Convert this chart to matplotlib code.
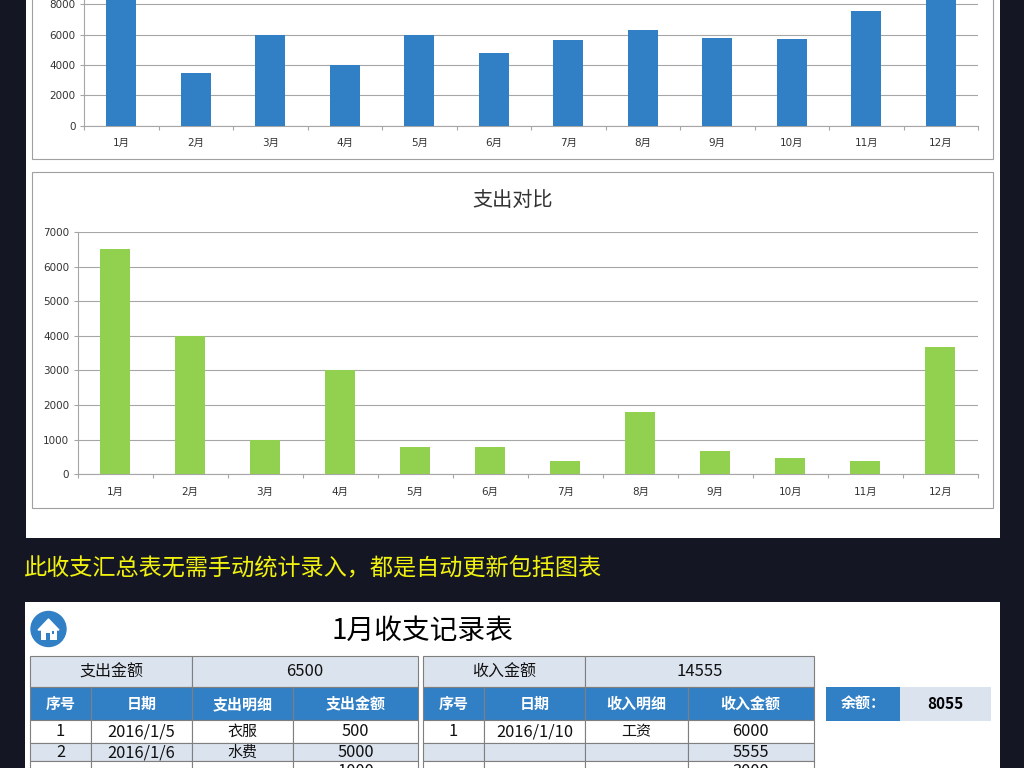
import numpy as np
import matplotlib
matplotlib.use("Agg")
import matplotlib.pyplot as plt
from matplotlib.patches import Rectangle, Circle, Polygon

plt.rcParams['font.family'] = ['Noto Sans CJK SC', 'DejaVu Sans']

# Data
months = ["1月", "2月", "3月", "4月", "5月", "6月", "7月", "8月", "9月", "10月", "11月", "12月"]
income = [14555, 3500, 6000, 4000, 6000, 4800, 5650, 6300, 5800, 5700, 7550, 9000]
expense = [6500, 4000, 1000, 3000, 800, 800, 380, 1800, 680, 480, 380, 3680]
income_ticks = [0, 2000, 4000, 6000, 8000]
expense_ticks = [0, 1000, 2000, 3000, 4000, 5000, 6000, 7000]

caption = "此收支汇总表无需手动统计录入，都是自动更新包括图表"
sheet_title = "1月收支记录表"
expense_head = ["序号", "日期", "支出明细", "支出金额"]
expense_rows = [["1", "2016/1/5", "衣服", "500"],
                ["2", "2016/1/6", "水费", "5000"],
                ["", "", "", "1000"]]
income_head = ["序号", "日期", "收入明细", "收入金额"]
income_rows = [["1", "2016/1/10", "工资", "6000"],
               ["", "", "", "5555"],
               ["", "", "", "3000"]]

DARK = "#141624"
BLUE = "#3180c6"
GREEN = "#92d050"
PALE = "#dae3ee"
LINE = "#7f7f7f"
GRID = "#a6a6a6"
TICK = "#333333"
TICK_FONT = ['DejaVu Sans', 'Noto Sans CJK SC']

fig = plt.figure(figsize=(10.24, 7.68), dpi=100, facecolor=DARK)

# page axes in pixel coordinates
page = fig.add_axes([0, 0, 1, 1])
page.set_xlim(0, 1024)
page.set_ylim(768, 0)
page.axis("off")


def box(x0, y0, x1, y1, fc="white", ec="none", lw=0.8):
    page.add_patch(Rectangle((x0, y0), x1 - x0, y1 - y0, facecolor=fc, edgecolor=ec, linewidth=lw))


def label(x, y, s, size=10.5, color="#111111", weight="normal"):
    page.text(x, y, s, fontsize=size, color=color, fontweight=weight,
              ha="center", va="center", clip_on=True)


box(26, 0, 1000, 538)
box(25, 602, 1000, 768)
box(32, -5, 993, 159, ec="#a0a0a0")
box(32, 172, 993, 508, ec="#a0a0a0")

page.text(24, 568, caption, fontsize=16.7, color="#f2f20f", ha="left", va="center")
label(422, 631, sheet_title, size=20, color="black")

# home icon
page.add_patch(Circle((48.5, 629), 17.5, color=BLUE))
page.add_patch(Polygon([[38, 630], [48.5, 619], [59, 630]], color="white"))
box(41, 629, 57, 640)
box(46, 633, 49.5, 640, fc=BLUE)
box(51.5, 631, 54, 634, fc=BLUE)


def draw_table(xs, title, total, head, rows):
    ys = [656, 687, 720, 742.5, 761, 790]
    mid = xs[2]
    box(xs[0], ys[0], mid, ys[1], fc=PALE, ec=LINE)
    box(mid, ys[0], xs[4], ys[1], fc=PALE, ec=LINE)
    label((xs[0] + mid) / 2, 672, title, size=11.5)
    label((mid + xs[4]) / 2, 672, total, size=12)
    for i in range(4):
        box(xs[i], ys[1], xs[i + 1], ys[2], fc=BLUE, ec=LINE)
        label((xs[i] + xs[i + 1]) / 2, 704, head[i], size=10.8, color="white", weight="bold")
        for r, row in enumerate(rows):
            box(xs[i], ys[2 + r], xs[i + 1], ys[3 + r], fc=PALE if r == 1 else "white", ec=LINE)
            size = 10.8 if i == 2 else 11.8
            label((xs[i] + xs[i + 1]) / 2, [732, 752.5, 772][r], row[i], size=size)


draw_table([30, 91, 192, 293, 418], "支出金额", "6500", expense_head, expense_rows)
draw_table([423, 484, 585, 687.5, 813.5], "收入金额", "14555", income_head, income_rows)

# balance box
box(826, 687, 900, 721, fc=BLUE)
box(900, 687, 991, 721, fc=PALE)
label(863, 704, "余额：", size=10.8, color="white", weight="bold")
label(945.5, 704, "8055", size=11, color="black", weight="bold")


def bar_chart(left, right, top, bottom, values, ticks, ymax, color):
    ax = fig.add_axes([left / 1024, 1 - bottom / 768, (right - left) / 1024, (bottom - top) / 768])
    ax.patch.set_alpha(0)
    x = np.arange(len(months))
    ax.bar(x, values, width=0.4, color=color, zorder=3)
    ax.set_xlim(-0.5, len(months) - 0.5)
    ax.set_ylim(0, ymax)
    ax.set_yticks(ticks)
    ax.yaxis.grid(True, color=GRID, linewidth=0.8, zorder=1)
    ax.set_axisbelow(True)
    ax.set_xticks(np.arange(len(months) + 1) - 0.5)
    ax.set_xticklabels([])
    ax.set_xticks(x, minor=True)
    ax.set_xticklabels(months, minor=True)
    ax.tick_params(axis="x", which="major", length=3, color=GRID, width=0.8)
    ax.tick_params(axis="x", which="minor", length=0, pad=9, labelsize=7.5, labelcolor=TICK,
                   labelfontfamily=TICK_FONT)
    ax.tick_params(axis="y", length=3, color=GRID, width=0.8, labelsize=7.5, labelcolor=TICK, pad=3,
                   labelfontfamily=TICK_FONT)
    for side in ["top", "right"]:
        ax.spines[side].set_visible(False)
    for side in ["left", "bottom"]:
        ax.spines[side].set_color(GRID)
        ax.spines[side].set_linewidth(0.8)
    return ax


bar_chart(84, 978, 0, 125.7, income, income_ticks, 8289, BLUE)
bar_chart(77.5, 978, 232, 474.2, expense, expense_ticks, 7000, GREEN)
label(512.5, 200, "支出对比", size=14.5, color="#333333")

fig.savefig("out.png", dpi=100, facecolor=DARK)
